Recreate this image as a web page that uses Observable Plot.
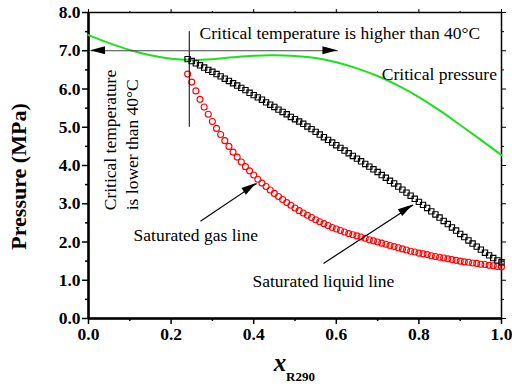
<!DOCTYPE html>
<html><head><meta charset="utf-8">
<script src="https://cdn.jsdelivr.net/npm/d3@7"></script>
<script src="https://cdn.jsdelivr.net/npm/@observablehq/plot@0.6"></script>
<style>
body{margin:0;background:#fff}
#chart{width:512px;height:389px;overflow:hidden}
</style>
</head><body><div id="chart"></div>
<script>
// ---- data ----
const moleFraction = [0.24,0.25,0.26,0.27,0.28,0.29,0.30,0.31,0.32,0.33,0.34,0.35,0.36,0.37,0.38,0.39,0.40,0.41,0.42,0.43,0.44,0.45,0.46,0.47,0.48,0.49,0.50,0.51,0.52,0.53,0.54,0.55,0.56,0.57,0.58,0.59,0.60,0.61,0.62,0.63,0.64,0.65,0.66,0.67,0.68,0.69,0.70,0.71,0.72,0.73,0.74,0.75,0.76,0.77,0.78,0.79,0.80,0.81,0.82,0.83,0.84,0.85,0.86,0.87,0.88,0.89,0.90,0.91,0.92,0.93,0.94,0.95,0.96,0.97,0.98,0.99,1.00];
const gasPressure = [6.39,6.18,5.95,5.73,5.53,5.34,5.15,4.97,4.81,4.65,4.50,4.35,4.22,4.09,3.97,3.86,3.75,3.64,3.54,3.45,3.36,3.27,3.19,3.11,3.03,2.96,2.89,2.82,2.76,2.70,2.64,2.58,2.53,2.48,2.43,2.38,2.34,2.30,2.26,2.22,2.19,2.16,2.13,2.10,2.06,2.03,2.00,1.97,1.94,1.91,1.88,1.85,1.82,1.79,1.76,1.74,1.71,1.69,1.67,1.64,1.62,1.60,1.58,1.56,1.54,1.52,1.50,1.48,1.47,1.45,1.44,1.42,1.41,1.39,1.38,1.36,1.35];
const liquidPressure = [6.78,6.73,6.67,6.62,6.56,6.50,6.45,6.39,6.33,6.27,6.21,6.15,6.09,6.03,5.97,5.90,5.84,5.78,5.72,5.65,5.59,5.53,5.46,5.40,5.34,5.27,5.21,5.15,5.09,5.02,4.95,4.88,4.81,4.74,4.67,4.60,4.53,4.46,4.39,4.32,4.25,4.18,4.11,4.04,3.97,3.90,3.83,3.75,3.68,3.60,3.53,3.45,3.37,3.29,3.21,3.13,3.05,2.97,2.89,2.80,2.72,2.64,2.55,2.47,2.38,2.30,2.21,2.13,2.04,1.96,1.88,1.80,1.72,1.65,1.58,1.52,1.47];
const critX = [0.00,0.05,0.10,0.15,0.20,0.25,0.30,0.35,0.40,0.45,0.50,0.55,0.60,0.65,0.70,0.75,0.80,0.85,0.90,0.95,1.00];
const critPressure = [7.41,7.20,7.02,6.88,6.79,6.76,6.78,6.83,6.87,6.88,6.86,6.81,6.70,6.54,6.34,6.09,5.79,5.44,5.06,4.67,4.27];

const xMajor = [0.0,0.2,0.4,0.6,0.8,1.0];
const xMinor = [0.1,0.3,0.5,0.7,0.9];
const yMajor = [0,1,2,3,4,5,6,7,8];
const yMinor = [0.5,1.5,2.5,3.5,4.5,5.5,6.5,7.5];

// annotations (data coordinates)
const arrowX1 = [0.30, 0.30, 0.271, 0.569];
const arrowY1 = [7.0, 7.0, 2.54, 1.44];
const arrowX2 = [0.005, 0.604, 0.407, 0.786];
const arrowY2 = [7.0, 7.0, 3.53, 2.97];
const arrowColor = ["#444", "#444", "#000", "#000"];
const criticalTempX = 0.244, criticalTempY1 = 5.0, criticalTempY2 = 7.5;

const labels = ["Critical temperature is higher than 40\u00b0C", "Critical pressure", "Saturated gas line", "Saturated liquid line"];
const labelX = [0.269, 0.989, 0.109, 0.397];
const labelY = [7.46, 6.39, 2.17, 0.97];
const labelAnchor = ["start", "end", "start", "start"];
const vLabels = ["Critical temperature", "is lower than 40\u00b0C"];
const vLabelX = [0.053, 0.106];
const vLabelY = [2.83, 2.83];

// ---- build ----
const serif = "'Liberation Serif', 'Times New Roman', serif";
const gas = moleFraction.map((x, i) => ({x, p: gasPressure[i]}));
const liq = moleFraction.map((x, i) => ({x, p: liquidPressure[i]}));
const crit = critX.map((x, i) => ({x, p: critPressure[i]}));
const arrows = arrowX1.map((_, i) => ({x1: arrowX1[i], y1: arrowY1[i], x2: arrowX2[i], y2: arrowY2[i], c: arrowColor[i]}));

function arrowHeads(index, scales) {
  const g = d3.create("svg:g");
  for (const a of arrows) {
    const x1 = scales.x(a.x1), y1 = scales.y(a.y1), x2 = scales.x(a.x2), y2 = scales.y(a.y2);
    const ang = Math.atan2(y2 - y1, x2 - x1);
    const L = 15, W = 4;
    const bx = x2 - L * Math.cos(ang), by = y2 - L * Math.sin(ang);
    const px = -Math.sin(ang) * W, py = Math.cos(ang) * W;
    g.append("path")
      .attr("d", `M${x2},${y2}L${bx + px},${by + py}L${bx - px},${by - py}Z`)
      .attr("fill", "#000");
  }
  return g.node();
}

const labelMarks = labels.map((t, i) =>
  Plot.text([t], {x: () => labelX[i], y: () => labelY[i], text: d => d, textAnchor: labelAnchor[i], lineAnchor: "middle", fontSize: 17.5, fill: "#000"}));
const vLabelMarks = vLabels.map((t, i) =>
  Plot.text([t], {x: () => vLabelX[i], y: () => vLabelY[i], text: d => d, rotate: -90, textAnchor: "start", lineAnchor: "middle", fontSize: 17.5, fill: "#000"}));

const noText = () => "";
const chart = Plot.plot({
  width: 512, height: 389,
  marginLeft: 88, marginRight: 11, marginTop: 12, marginBottom: 71,
  style: {fontFamily: serif, background: "#fff", color: "#000"},
  x: {domain: [0, 1], label: null},
  y: {domain: [0, 8], label: null},
  marks: [
    Plot.axisX(xMajor, {anchor: "bottom", tickSize: 6, tickPadding: 3, tickFormat: d3.format(".1f"), fontSize: 17.5, fontWeight: "bold", strokeWidth: 1.5, label: null}),
    Plot.axisX(xMinor, {anchor: "bottom", tickSize: 3, tickFormat: noText, strokeWidth: 1.5, label: null}),
    Plot.axisX(xMajor, {anchor: "top", tickSize: 4, tickFormat: noText, strokeWidth: 1, label: null}),
    Plot.axisX(xMinor, {anchor: "top", tickSize: 2, tickFormat: noText, strokeWidth: 1, label: null}),
    Plot.axisY(yMajor, {anchor: "left", tickSize: 6, tickPadding: 2, tickFormat: d3.format(".1f"), fontSize: 17.5, fontWeight: "bold", strokeWidth: 1.5, label: null}),
    Plot.axisY(yMinor, {anchor: "left", tickSize: 3, tickFormat: noText, strokeWidth: 1.5, label: null}),
    Plot.axisY(yMajor, {anchor: "right", tickSize: 4, tickFormat: noText, strokeWidth: 1, label: null}),
    Plot.axisY(yMinor, {anchor: "right", tickSize: 2, tickFormat: noText, strokeWidth: 1, label: null}),
    Plot.frame({stroke: "#000", strokeWidth: 1.5}),
    Plot.ruleX([0], {stroke: "#000", strokeWidth: 2.5}),
    Plot.ruleY([0], {stroke: "#000", strokeWidth: 2.5}),
    // curves
    Plot.line(crit, {x: "x", y: "p", stroke: "#1ee01e", strokeWidth: 2, curve: "catmull-rom"}),
    Plot.dot(gas, {x: "x", y: "p", r: 3, stroke: "#ff0000", strokeWidth: 1.1, fill: "none"}),
    Plot.dot(liq, {x: "x", y: "p", r: 3, symbol: "square", stroke: "#000", strokeWidth: 1.1, fill: "none"}),
    // annotations
    Plot.ruleX([criticalTempX], {y1: criticalTempY1, y2: criticalTempY2, stroke: "#000", strokeWidth: 1}),
    Plot.link(arrows, {x1: "x1", y1: "y1", x2: "x2", y2: "y2", stroke: "c", strokeWidth: 1.2}),
    arrowHeads,
    ...labelMarks,
    ...vLabelMarks,
    // axis titles
    Plot.text(["Pressure (MPa)"], {frameAnchor: "left", textAnchor: "middle", rotate: -90, dx: -70, dy: 11, fontSize: 22, fontWeight: "bold", fill: "#000"}),
    Plot.text(["x"], {frameAnchor: "bottom", textAnchor: "middle", dx: -15, dy: 52, fontSize: 25, fontWeight: "bold", fontStyle: "italic", fill: "#000"}),
    Plot.text(["R290"], {frameAnchor: "bottom", textAnchor: "start", dx: -9, dy: 62, fontSize: 13, fontWeight: "bold", fill: "#000"})
  ]
});
document.getElementById("chart").appendChild(chart);
</script>
</body></html>
